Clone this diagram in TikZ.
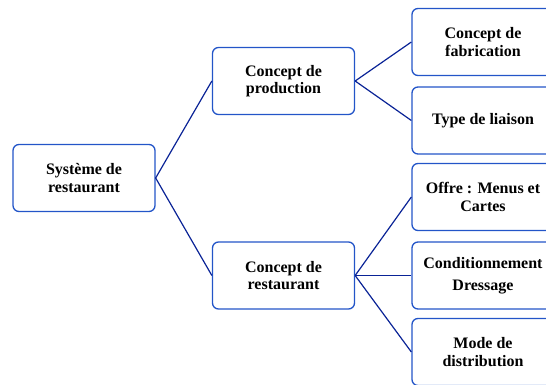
\documentclass[tikz,border=0pt]{standalone}
\usepackage{fontspec}
\setmainfont{Liberation Serif}
\definecolor{bcol}{RGB}{35,85,200}
\definecolor{lcol}{RGB}{10,35,150}
\tikzset{every picture/.style={x=1pt,y=-1pt}}
\tikzset{box/.style={draw=bcol,line width=1.3pt,rounded corners=6pt,minimum width=142pt,minimum height=67pt,align=center,inner sep=2pt,font=\fontsize{16}{17.5}\selectfont\bfseries}}
\tikzset{link/.style={draw=lcol,line width=1.2pt}}

\begin{document}
\begin{tikzpicture}
\useasboundingbox (0,0) rectangle (546,385);
\clip (0,0) rectangle (546,385);
\node [box] (sys) at (84,178) {Système de\\restaurant};
\node [box] (prod) at (283.5,81) {Concept de\\production};
\node [box] (rest) at (283.5,275.5) {Concept de\\restaurant};
\node [box] (fab) at (483,42) {Concept de\\fabrication};
\node [box] (liai) at (483,120.5) {Type de liaison};
\node [box] (offre) at (483,197) {Offre : Menus et\\Cartes};
\node [box] (cond) at (483,275.5) {Conditionnement\\[4pt]Dressage};
\node [box] (distr) at (483,352) {Mode de\\distribution};
\draw [link] (sys.east) -- (prod.west);
\draw [link] (sys.east) -- (rest.west);
\draw [link] (prod.east) -- (fab.west);
\draw [link] (prod.east) -- (liai.west);
\draw [link] (rest.east) -- (offre.west);
\draw [link] (rest.east) -- (cond.west);
\draw [link] (rest.east) -- (distr.west);
\end{tikzpicture}
\end{document}
